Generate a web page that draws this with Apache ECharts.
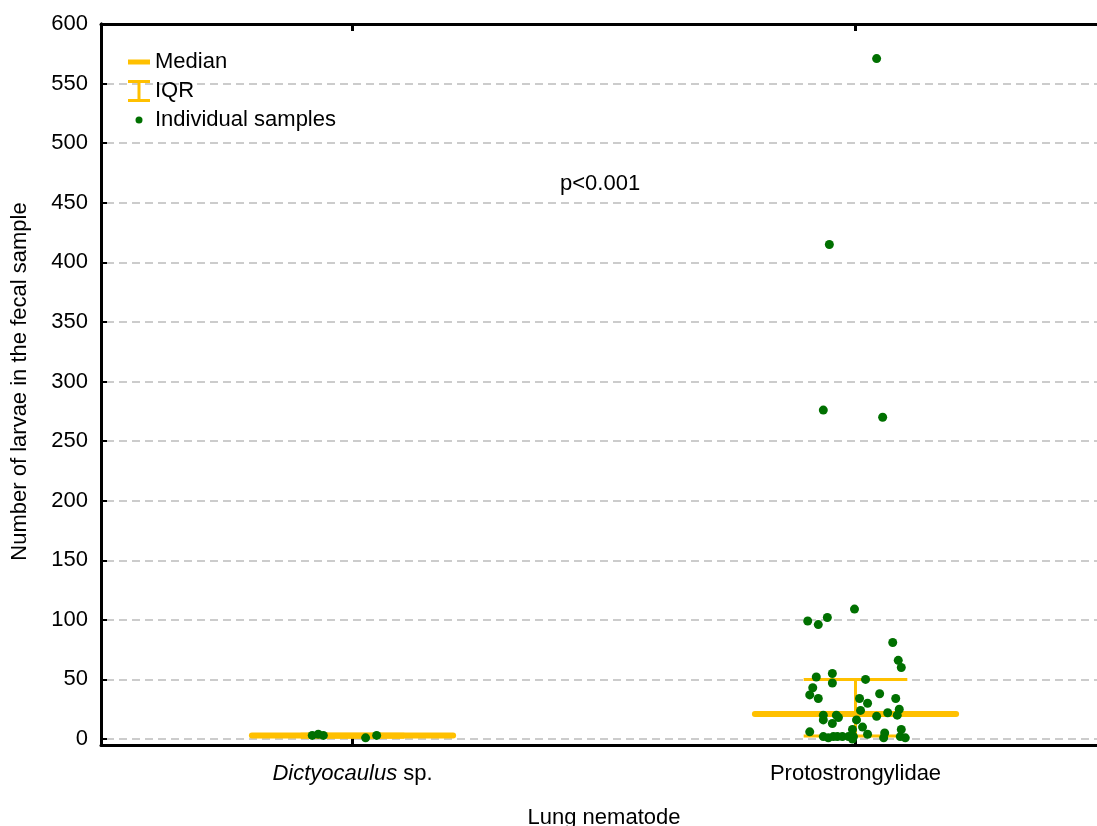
<!DOCTYPE html>
<html><head><meta charset="utf-8">
<script src="https://cdn.jsdelivr.net/npm/echarts@6/dist/echarts.min.js"></script>
<style>html,body{margin:0;padding:0;background:#fff}#c{width:1097px;height:826px}</style>
</head><body><div id="c"></div>
<script>
// ---- data ----
const categories = ['Dictyocaulus sp.', 'Protostrongylidae'];
const yTicks = [0, 50, 100, 150, 200, 250, 300, 350, 400, 450, 500, 550, 600];
const dictyoValues = [3, 4, 3, 1, 3];
const dictyoJitter = [-0.080, -0.068, -0.058, 0.026, 0.048];
const protoValues = [571, 415, 276, 270, 109, 102, 99, 96, 81, 66, 60, 52, 55, 47, 50, 43, 37, 34, 38, 34,
  30, 34, 25, 20, 20, 16, 20, 18, 13, 24, 19, 22, 16, 8, 10, 4, 6, 2, 1, 2, 2, 2, 2, 0, 5, 1, 8, 2, 1, 2];
const protoJitter = [0.042, -0.052, -0.064, 0.054, -0.002, -0.056, -0.095, -0.074, 0.074, 0.085, 0.091, -0.078, -0.046, -0.046, 0.020, -0.085, -0.091, -0.074, 0.048, 0.008,
  0.024, 0.080, 0.087, 0.083, -0.064, -0.064, -0.038, -0.034, -0.046, 0.010, 0.042, 0.064, 0.002, -0.006, 0.014, 0.024, -0.091, -0.064, -0.054, -0.036, -0.026, -0.014, -0.004, -0.006, 0.058, 0.056, 0.091, 0.089, 0.099, -0.044];
const medians = [3, 21];
const q1 = [1.5, 2.5];
const q3 = [4, 50];
const pText = 'p<0.001';

// ---- styles ----
const ORANGE = '#FFC000';
const GREEN = '#007000';
const FONT = 'Arial, "Liberation Sans", sans-serif';
const MED_HALF = 0.2;
const CAP_HALF = 0.103;

const samples = [];
dictyoValues.forEach((v, i) => samples.push([0 + dictyoJitter[i], v]));
protoValues.forEach((v, i) => samples.push([1 + protoJitter[i], v]));

const chart = echarts.init(document.getElementById('c'), null, {renderer: 'canvas'});
chart.setOption({
  animation: false,
  backgroundColor: '#fff',
  textStyle: {fontFamily: FONT, color: '#000'},
  title: {
    text: pText, left: 555, top: 168,
    textStyle: {fontFamily: FONT, fontSize: 22, fontWeight: 'normal', color: '#000'}
  },
  legend: {
    orient: 'vertical', left: 123, top: 46,
    itemWidth: 22, itemHeight: 22, itemGap: 7,
    textStyle: {fontFamily: FONT, fontSize: 22, color: '#000'},
    data: [
      {name: 'Median', icon: 'path://M0,0M22,22M0,8.5H22V13.5H0Z'},
      {name: 'IQR', icon: 'path://M0,0H22V3H12.5V19H22V22H0V19H9.5V3H0Z'},
      {name: 'Individual samples', icon: 'path://M0,0M22,22M7.5,11A3.5,3.5 0 1,0 14.5,11A3.5,3.5 0 1,0 7.5,11Z'}
    ]
  },
  grid: [
    {left: 101, right: -10, top: 24, bottom: 87, outerBoundsMode: 'none', containLabel: false},
    {left: 101, right: -10, top: 24, bottom: 81, outerBoundsMode: 'none', containLabel: false}
  ],
  xAxis: [
    {gridIndex: 0, type: 'value', min: -0.5, max: 1.5, show: false, axisLine: {onZero: false}},
    {
      gridIndex: 1, type: 'category', position: 'bottom', data: categories,
      axisLine: {show: true, onZero: false, lineStyle: {color: '#000', width: 3}},
      axisTick: {show: true, inside: true, alignWithLabel: true, length: 7, lineStyle: {color: '#000', width: 3}},
      axisLabel: {
        fontFamily: FONT, fontSize: 22, color: '#000', margin: 18,
        formatter: v => v === 'Dictyocaulus sp.' ? '{i|Dictyocaulus} sp.' : v,
        rich: {i: {fontFamily: FONT, fontSize: 22, color: '#000', fontStyle: 'italic'}}
      },
      splitLine: {show: false},
      name: 'Lung nematode', nameLocation: 'middle', nameGap: 62,
      nameTextStyle: {fontFamily: FONT, fontSize: 22, color: '#000'}
    },
    {
      gridIndex: 1, type: 'category', position: 'top', data: categories,
      axisLine: {show: true, onZero: false, lineStyle: {color: '#000', width: 3}},
      axisTick: {show: true, inside: true, alignWithLabel: true, length: 7, lineStyle: {color: '#000', width: 3}},
      axisLabel: {show: false}, splitLine: {show: false}
    }
  ],
  yAxis: [
    {
      gridIndex: 0, type: 'value', position: 'left', min: 0, max: 600, interval: 50, z: 5,
      axisLine: {show: true, onZero: false, lineStyle: {color: '#000', width: 3}},
      axisTick: {show: true, inside: true, length: 6, lineStyle: {color: '#000', width: 2}},
      axisLabel: {fontFamily: FONT, fontSize: 22, color: '#000', margin: 13},
      splitLine: {show: false},
      name: 'Number of larvae in the fecal sample', nameLocation: 'middle', nameGap: 70,
      nameTextStyle: {fontFamily: FONT, fontSize: 22, color: '#000'}
    },
    {
      gridIndex: 1, type: 'value', position: 'left', min: -5, max: 600,
      axisLine: {show: true, onZero: false, lineStyle: {color: '#000', width: 3}},
      axisTick: {show: false}, axisLabel: {show: false}, splitLine: {show: false}
    },
    {
      gridIndex: 0, type: 'value', position: 'right', min: 0, max: 600, interval: 50, z: 0,
      axisLine: {show: false, onZero: false},
      axisTick: {show: false}, axisLabel: {show: false},
      splitLine: {show: true, lineStyle: {color: '#cccccc', width: 2, type: [8, 5], dashOffset: 8}}
    }
  ],
  series: [
    {
      name: 'Median', type: 'custom', xAxisIndex: 0, yAxisIndex: 0, z: 2,
      itemStyle: {color: ORANGE},
      encode: {x: 0, y: 1},
      data: medians.map((m, i) => [i, m]),
      renderItem(params, api) {
        const c = api.value(0), m = api.value(1);
        const a = api.coord([c - MED_HALF, m]);
        const b = api.coord([c + MED_HALF, m]);
        return {type: 'line', shape: {x1: a[0], y1: a[1], x2: b[0], y2: b[1]},
          style: {stroke: ORANGE, lineWidth: 6, lineCap: 'round'}};
      }
    },
    {
      name: 'IQR', type: 'custom', xAxisIndex: 0, yAxisIndex: 0, z: 2,
      itemStyle: {color: ORANGE},
      encode: {x: 0, y: [1, 2]},
      data: q1.map((v, i) => [i, v, q3[i]]),
      renderItem(params, api) {
        const c = api.value(0), lo = api.value(1), hi = api.value(2);
        const top = api.coord([c, hi]), bot = api.coord([c, lo]);
        const tl = api.coord([c - CAP_HALF, hi]), tr = api.coord([c + CAP_HALF, hi]);
        const bl = api.coord([c - CAP_HALF, lo]), br = api.coord([c + CAP_HALF, lo]);
        const st = {stroke: ORANGE, lineWidth: 3};
        return {type: 'group', children: [
          {type: 'line', shape: {x1: top[0], y1: top[1], x2: bot[0], y2: bot[1]}, style: st},
          {type: 'line', shape: {x1: tl[0], y1: tl[1], x2: tr[0], y2: tr[1]}, style: st},
          {type: 'line', shape: {x1: bl[0], y1: bl[1], x2: br[0], y2: br[1]}, style: st}
        ]};
      }
    },
    {
      name: 'Individual samples', type: 'scatter', xAxisIndex: 0, yAxisIndex: 0, z: 3,
      symbol: 'circle', symbolSize: 9,
      itemStyle: {color: GREEN, opacity: 1},
      data: samples
    }
  ]
});
</script>
</body></html>
